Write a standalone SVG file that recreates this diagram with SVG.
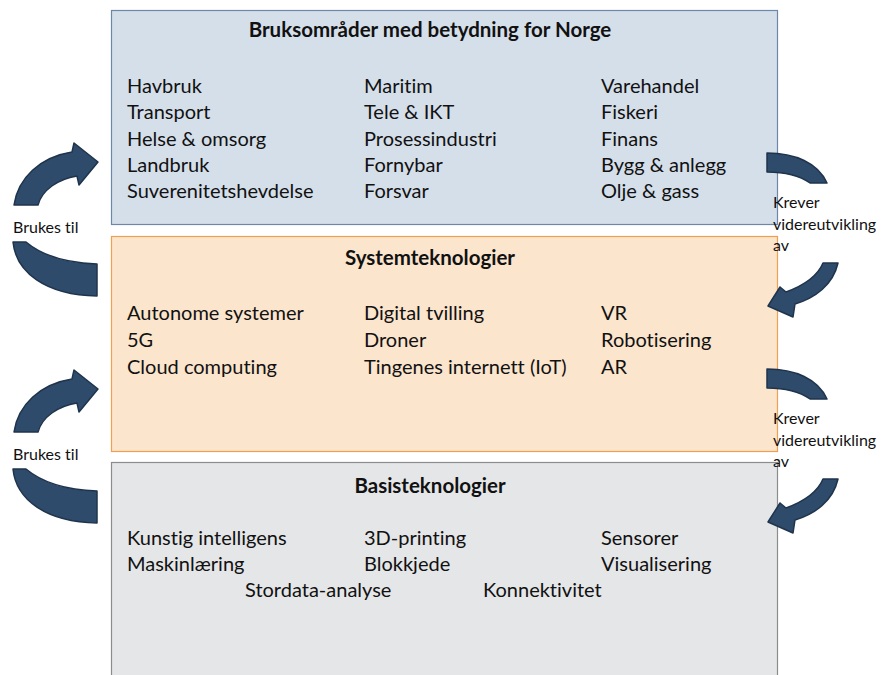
<svg xmlns="http://www.w3.org/2000/svg" width="882" height="675" viewBox="0 0 882 675">
<style>
text{font-family:Lato,"Open Sans","Liberation Sans",sans-serif;fill:#111;font-variant-ligatures:none}
.t{font-size:20px}
.h{font-size:20.5px;font-weight:bold;text-anchor:middle}
.s{font-size:16px}
.arr{fill:#2f4b6b;stroke:#1f344c;stroke-width:1.5;stroke-linejoin:round}
</style>
<rect width="882" height="675" fill="#fff"/>
<g id="bruksomrader">
<rect x="111.5" y="10.5" width="666" height="214" fill="#d5dfea" stroke="#6d87a8" stroke-width="1.2"/>
<text class="h" x="430" y="37">Bruksområder med betydning for Norge</text>
<text class="t" x="127" y="93">Havbruk</text>
<text class="t" x="127" y="119">Transport</text>
<text class="t" x="127" y="146">Helse &amp; omsorg</text>
<text class="t" x="127" y="172">Landbruk</text>
<text class="t" x="127" y="198">Suverenitetshevdelse</text>
<text class="t" x="364" y="93">Maritim</text>
<text class="t" x="364" y="119">Tele &amp; IKT</text>
<text class="t" x="364" y="146">Prosessindustri</text>
<text class="t" x="364" y="172">Fornybar</text>
<text class="t" x="364" y="198">Forsvar</text>
<text class="t" x="601" y="93">Varehandel</text>
<text class="t" x="601" y="119">Fiskeri</text>
<text class="t" x="601" y="146">Finans</text>
<text class="t" x="601" y="172">Bygg &amp; anlegg</text>
<text class="t" x="601" y="198">Olje &amp; gass</text>
</g>
<g id="systemteknologier">
<rect x="111.5" y="236.5" width="666" height="215" fill="#fbe5cd" stroke="#f0a050" stroke-width="1.2"/>
<text class="h" x="430" y="265">Systemteknologier</text>
<text class="t" x="127" y="320">Autonome systemer</text>
<text class="t" x="127" y="347">5G</text>
<text class="t" x="127" y="374">Cloud computing</text>
<text class="t" x="364" y="320">Digital tvilling</text>
<text class="t" x="364" y="347">Droner</text>
<text class="t" x="364" y="374">Tingenes internett (IoT)</text>
<text class="t" x="601" y="320">VR</text>
<text class="t" x="601" y="347">Robotisering</text>
<text class="t" x="601" y="374">AR</text>
</g>
<g id="basisteknologier">
<rect x="111.5" y="462.5" width="666" height="220" fill="#e5e6e8" stroke="#8c8c8c" stroke-width="1.2"/>
<text class="h" x="430" y="493">Basisteknologier</text>
<text class="t" x="127" y="545">Kunstig intelligens</text>
<text class="t" x="127" y="571">Maskinlæring</text>
<text class="t" x="245" y="597">Stordata-analyse</text>
<text class="t" x="364" y="545">3D-printing</text>
<text class="t" x="364" y="571">Blokkjede</text>
<text class="t" x="483" y="597">Konnektivitet</text>
<text class="t" x="601" y="545">Sensorer</text>
<text class="t" x="601" y="571">Visualisering</text>
</g>
<g id="connectors">
<g id="left1">
<path class="arr" d="M14 205 C18 178 40 157 72 152 L74 143 L98 162 L79 185 L77 176 C58 179 42 190 38 205 Z"/>
<path class="arr" d="M13 242 C16 272 45 295 97 296 L97 264 C70 263 45 258 26 242 Z"/>
<text class="s" x="13" y="233">Brukes til</text>
</g>
<g id="left2" transform="translate(0,227)">
<path class="arr" d="M14 205 C18 178 40 157 72 152 L74 143 L98 162 L79 185 L77 176 C58 179 42 190 38 205 Z"/>
<path class="arr" d="M13 242 C16 272 45 295 97 296 L97 264 C70 263 45 258 26 242 Z"/>
<text class="s" x="13" y="233">Brukes til</text>
</g>
<g id="right1">
<path class="arr" d="M767 153 C795 153 818 163 827 183 L810 183 C800 176 785 172 767 172 Z"/>
<path class="arr" d="M823 263 L838 263 C833 285 815 298 795 304 L793 317 L768 306 L780 287 L786 292 C805 285 818 275 823 263 Z"/>
<text class="s" x="773" y="208">Krever</text>
<text class="s" x="773" y="230">videreutvikling</text>
<text class="s" x="773" y="251">av</text>
</g>
<g id="right2" transform="translate(0,216)">
<path class="arr" d="M767 153 C795 153 818 163 827 183 L810 183 C800 176 785 172 767 172 Z"/>
<path class="arr" d="M823 263 L838 263 C833 285 815 298 795 304 L793 317 L768 306 L780 287 L786 292 C805 285 818 275 823 263 Z"/>
<text class="s" x="773" y="208">Krever</text>
<text class="s" x="773" y="230">videreutvikling</text>
<text class="s" x="773" y="251">av</text>
</g>
</g>
</svg>
